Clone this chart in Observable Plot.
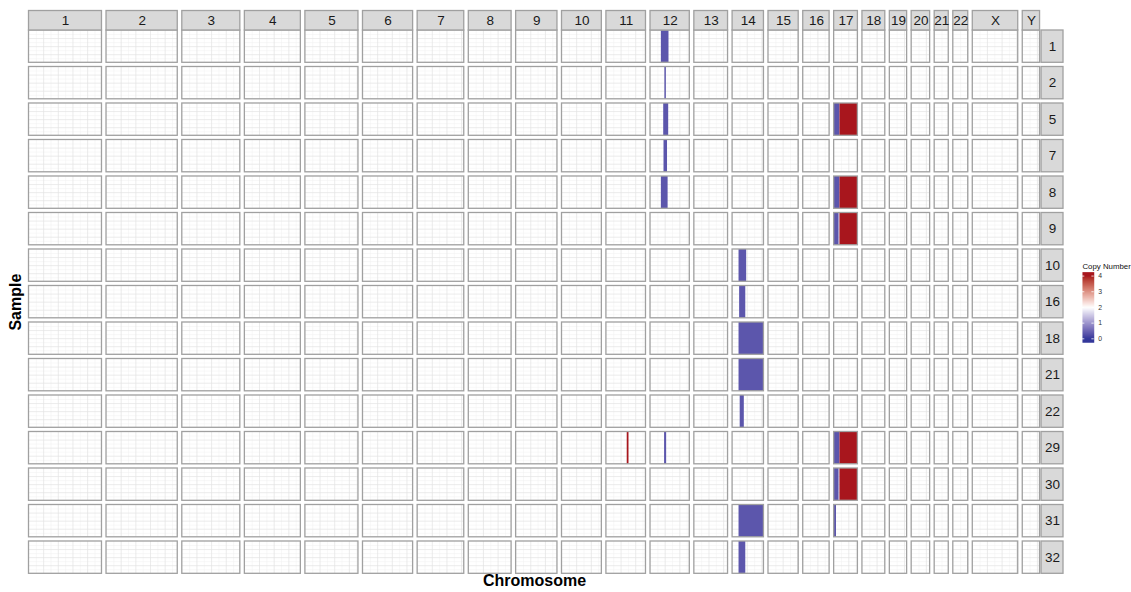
<!DOCTYPE html>
<html><head><meta charset="utf-8">
<script src="https://cdn.jsdelivr.net/npm/d3@7"></script>
<script src="https://cdn.jsdelivr.net/npm/@observablehq/plot@0.6"></script>
<style>
body{margin:0;background:#fff;font-family:"Liberation Sans",Arial,sans-serif}
#wrap{position:relative;width:1131px;height:592px}
#legend{position:absolute;left:1080px;top:254px}
</style></head><body><div id="wrap"><div id="chart"></div><div id="legend"></div></div>
<script>
// ---- data ----
const chromosomes = ["1","2","3","4","5","6","7","8","9","10","11","12","13","14","15","16","17","18","19","20","21","22","X","Y"];
const chromLengths = [249,243,198,191,181,171,159,146,141,136,135,134,115,107,103,90,81,78,59,63,48,51,155,59]; // Mb
const samples = ["1","2","5","7","8","9","10","16","18","21","22","29","30","31","32"];

const segSample     = ["1", "2", "5", "5", "5", "7", "8", "8", "8", "9", "9", "9", "10","16","18","21","22","29","29","29","29","30","30","30","31","31","32"];
const segChrom      = ["12","12","12","17","17","12","12","17","17","17","17","17","14","14","14","14","14","11","12","17","17","17","17","17","14","17","14"];
const segStart      = [37,  49,  45,  0,   20,  46,  37,  0,   20,  0,   17,  20,  22,  24,  22,  22,  26,  71,  48,  0,   20,  0,   17,  20,  22,  0,   22];
const segEnd        = [63,  54,  62,  20,  81,  58,  60,  20,  81,  17,  20,  81,  48,  45,  107, 107, 40,  77,  55,  20,  81,  17,  20,  81,  107, 8,   45];
const segCopyNumber = [0.35,0.35,0.35,0.35,4,   0.35,0.35,0.35,4,   0.35,1.3, 4,   0.35,0.35,0.35,0.35,0.35,4,   0.35,0.35,4,   0.35,1.3, 4,   0.35,0.35,0.35];

const legendTicks = [0, 1, 2, 3, 4];

// ---- layout helpers ----
const GAP = 15.5, STRIP_GAP = 5, STRIP_W = 75;
const offsets = []; let acc = 0;
chromLengths.forEach(L => { offsets.push(acc); acc += L + GAP; });
const genomeEnd = acc - GAP;
const stripX1 = genomeEnd + STRIP_GAP, stripX2 = stripX1 + STRIP_W;
const PANEL_H = 0.885, HEAD_H = 0.534;
const lastBottom = samples.length - 1 + PANEL_H;
const chromIndex = new Map(chromosomes.map((c, j) => [c, j]));
const sampleIndex = new Map(samples.map((s, i) => [s, i]));

const panels = samples.flatMap((s, i) => chromosomes.map((c, j) => ({i, j})));
const vgrid = panels.flatMap(p => d3.range(25, chromLengths[p.j], 25).map(v => ({...p, v, major: v % 50 === 0})));
const hgrid = panels.flatMap(p => [1,2,3,4,5,6,7].map(k => ({...p, f: k / 8, major: k % 2 === 0})));
const segs = segSample.map((s, k) => ({
  i: sampleIndex.get(s), j: chromIndex.get(segChrom[k]),
  start: segStart[k], end: segEnd[k], cn: segCopyNumber[k]
}));

const colorOpts = {type: "linear", domain: [0, 2, 4], range: ["#33379a", "#ffffff", "#a8161d"], interpolate: "lab"};
const font = '"Liberation Sans", Arial, Helvetica, sans-serif';

const px1 = p => offsets[p.j], px2 = p => offsets[p.j] + chromLengths[p.j];
const py1 = p => p.i, py2 = p => p.i + PANEL_H;

const chart = Plot.plot({
  width: 1131, height: 592, margin: 0,
  x: {domain: [0, stripX2], range: [28.5, 1063], axis: null},
  y: {domain: [-HEAD_H, lastBottom], range: [10.5, 573.3], axis: null},
  color: colorOpts,
  style: {fontFamily: font, background: "white"},
  marks: [
    Plot.rect(panels, {x1: px1, x2: px2, y1: py1, y2: py2, fill: "#ffffff"}),
    Plot.ruleX(vgrid.filter(d => !d.major), {x: d => offsets[d.j] + d.v, y1: py1, y2: py2, stroke: "#f0f0f0", strokeWidth: 0.5}),
    Plot.ruleY(hgrid.filter(d => !d.major), {y: d => d.i + d.f * PANEL_H, x1: px1, x2: px2, stroke: "#f0f0f0", strokeWidth: 0.5}),
    Plot.ruleX(vgrid.filter(d => d.major), {x: d => offsets[d.j] + d.v, y1: py1, y2: py2, stroke: "#e3e3e3", strokeWidth: 0.7}),
    Plot.ruleY(hgrid.filter(d => d.major), {y: d => d.i + d.f * PANEL_H, x1: px1, x2: px2, stroke: "#e3e3e3", strokeWidth: 0.7}),
    Plot.rect(segs, {x1: d => offsets[d.j] + d.start, x2: d => offsets[d.j] + d.end, y1: py1, y2: py2, fill: d => d.cn}),
    Plot.rect(panels, {x1: px1, x2: px2, y1: py1, y2: py2, fill: "none", stroke: "#a0a0a0", strokeWidth: 1.3}),
    // top strips
    Plot.rect(chromosomes, {x1: (c, j) => offsets[j], x2: (c, j) => offsets[j] + chromLengths[j], y1: -HEAD_H, y2: 0, fill: "#d9d9d9", stroke: "#a0a0a0", strokeWidth: 1.3}),
    Plot.text(chromosomes, {x: (c, j) => offsets[j] + chromLengths[j] / 2, y: -HEAD_H / 2, text: d => d, fontSize: 13.5, fill: "#1a1a1a"}),
    // right strips
    Plot.rect(samples, {x1: stripX1, x2: stripX2, y1: (s, i) => i, y2: (s, i) => i + PANEL_H, fill: "#d9d9d9", stroke: "#a0a0a0", strokeWidth: 1.3}),
    Plot.text(samples, {x: (stripX1 + stripX2) / 2, y: (s, i) => i + PANEL_H / 2, text: d => d, fontSize: 13.5, fill: "#1a1a1a"}),
    // axis titles
    Plot.text(["Chromosome"], {x: genomeEnd / 2, y: lastBottom + 0.2, text: d => d, fontSize: 16, fontWeight: "bold", fill: "#000"}),
    Plot.text(["Sample"], {x: -46, y: lastBottom / 2, text: d => d, rotate: -90, fontSize: 16, fontWeight: "bold", fill: "#000"})
  ]
});
document.getElementById("chart").append(chart);

const legend = Plot.plot({
  width: 52, height: 96, marginTop: 18, marginBottom: 6, marginLeft: 2, marginRight: 38,
  x: {domain: [0, 1], axis: null},
  y: {domain: [-0.25, 4.25], axis: null},
  color: colorOpts,
  style: {fontFamily: font, background: "transparent", overflow: "visible"},
  marks: [
    Plot.raster({fill: (x, y) => Math.max(0, Math.min(4, y)), x1: 0, x2: 1, y1: -0.25, y2: 4.25, pixelSize: 1}),
    Plot.ruleY(legendTicks, {y: d => d, x1: 0, x2: 0.2, stroke: "white", strokeWidth: 0.8}),
    Plot.ruleY(legendTicks, {y: d => d, x1: 0.8, x2: 1, stroke: "white", strokeWidth: 0.8}),
    Plot.text(legendTicks, {y: d => d, x: 1, dx: 4, textAnchor: "start", text: d => String(d), fontSize: 7, fill: "#333"}),
    Plot.text(["Copy Number"], {frameAnchor: "top-left", dy: -9, textAnchor: "start", text: d => d, fontSize: 8, fill: "#111"})
  ]
});
document.getElementById("legend").append(legend);
</script></body></html>
